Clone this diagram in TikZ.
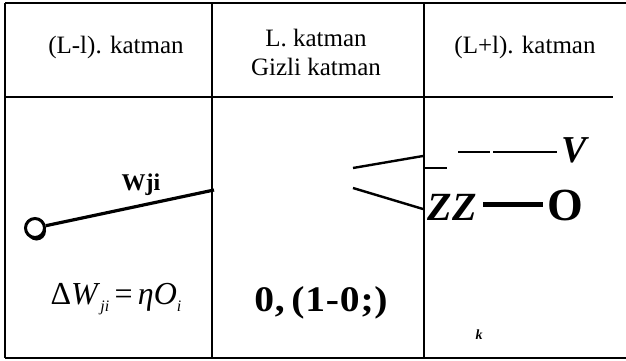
\documentclass[tikz,border=0pt]{standalone}
\usepackage{fontspec}
\setmainfont{Liberation Serif}
\usetikzlibrary{shadows}
\begin{document}
\begin{tikzpicture}[x=1pt,y=-1pt,
  grid/.style={line width=2.4pt},
  hdr/.style={font=\fontsize{25}{29}\selectfont, align=center, inner sep=0pt},
  wire/.style={line width=2.4pt},
  thin wire/.style={line width=1.6pt}]
\useasboundingbox (0,0) rectangle (626,361);
\fill[white] (0,0) rectangle (626,361);
% grid
\draw[grid] (5,3) -- (626,3);
\draw[grid] (5,97) -- (613,97);
\draw[grid] (5,358) -- (626,358);
\draw[grid] (5,3) -- (5,358);
\draw[grid] (212,3) -- (212,358);
\draw[grid] (424,3) -- (424,358);
% headers
\node[hdr] (h1) at (116,47) {(L-l). katman};
\node[hdr] (h2) at (316,52) {L. katman\\Gizli katman};
\node[hdr] (h3) at (525,47) {(L+l). katman};
% left column
\node[circle, draw, fill=white, line width=3pt, minimum size=19pt, inner sep=0pt,
  drop shadow={shadow xshift=1.5pt, shadow yshift=-3pt, fill=black, opacity=1}] (c) at (35,228) {};
\coordinate (w1) at (214,190);
\draw[line width=3.2pt] (c) -- (w1);
\node[font=\bfseries\fontsize{24}{24}\selectfont, inner sep=0pt] (wl) at (141,185) {Wji};
\node[inner sep=0pt, font=\fontsize{32}{32}\selectfont] (dw) at (116,299)
  {Δ\textit{W}\raisebox{-7pt}{\fontsize{16}{16}\selectfont\textit{ji}}\,=\,\textit{ηO}\raisebox{-7pt}{\fontsize{16}{16}\selectfont\textit{i}}};
% middle column
\node[inner sep=0pt] (o1) at (321,303)
  {\scalebox{1.1}[1]{\fontsize{36}{36}\selectfont\bfseries\addfontfeature{LetterSpace=2}0,\,(1-0;)}};
% right column
\coordinate (a1) at (353,168); \coordinate (a2) at (423,156);
\draw[wire] (a1) -- (a2);
\coordinate (b1) at (353,188); \coordinate (b2) at (423,209);
\draw[wire] (b1) -- (b2);
\coordinate (t1) at (425,168); \coordinate (t2) at (447,168);
\draw[thin wire] (t1) -- (t2);
\coordinate (d1) at (458,152); \coordinate (d2) at (490,152);
\draw[line width=2.2pt] (d1) -- (d2);
\node[font=\bfseries\itshape\fontsize{38}{38}\selectfont, inner sep=0pt] (v) at (574,150) {V};
\coordinate (d3) at (493,152); \coordinate (d4) at (557,152);
\draw[thin wire] (d3) -- (d4);
\node[font=\bfseries\itshape\fontsize{40}{40}\selectfont, inner sep=0pt] (zz) at (452,207) {ZZ};
\node[font=\bfseries\fontsize{46}{46}\selectfont, inner sep=0pt] (o) at (565,205) {O};
\coordinate (z1) at (483,204); \coordinate (z2) at (543,204);
\draw[line width=5pt] (z1) -- (z2);
\node[font=\bfseries\itshape\fontsize{14}{14}\selectfont, inner sep=0pt] (k) at (479,335) {k};
\end{tikzpicture}
\end{document}
